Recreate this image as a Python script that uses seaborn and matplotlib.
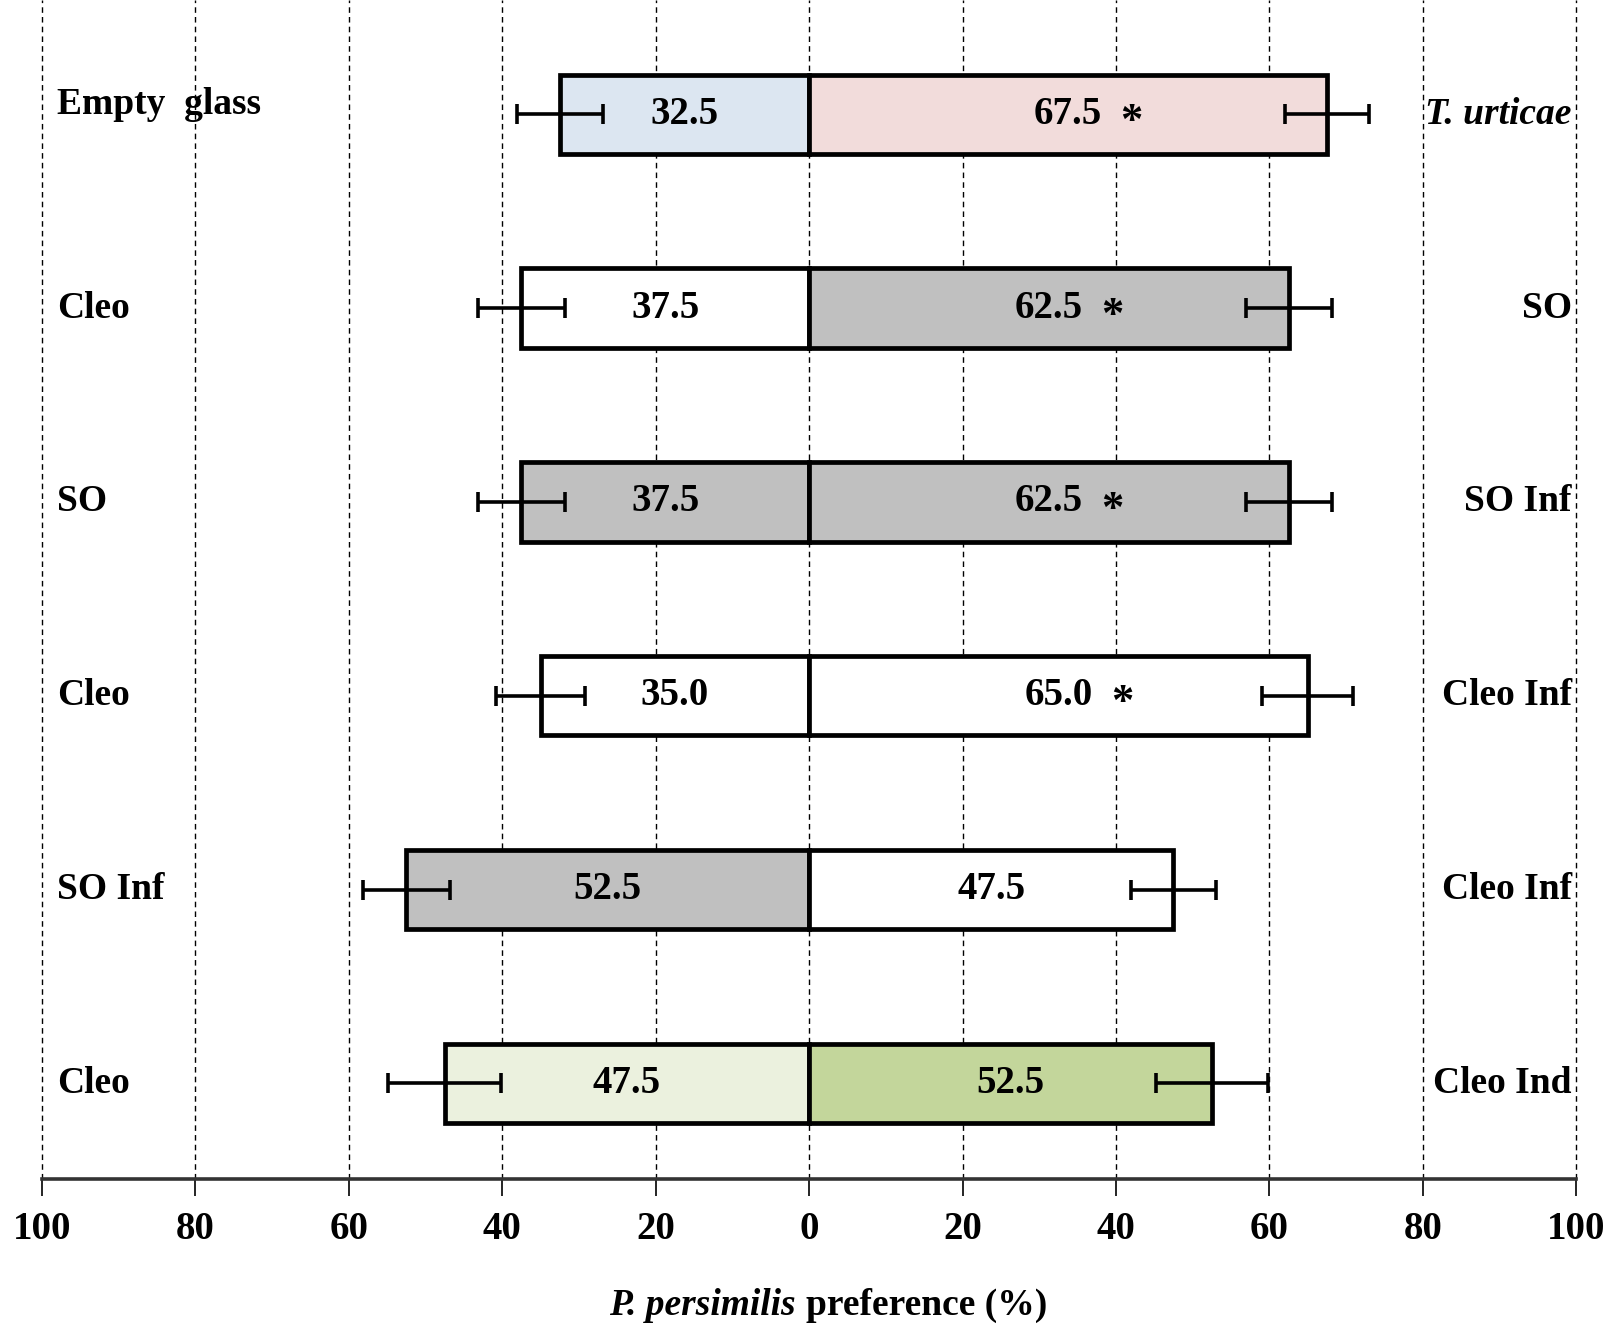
import matplotlib
matplotlib.use("Agg")
import matplotlib.pyplot as plt
import seaborn as sns
import pandas as pd

# ---- data ----
left_labels = ["Empty  glass", "Cleo", "SO", "Cleo", "SO Inf", "Cleo"]
right_labels = ["T. urticae", "SO", "SO Inf", "Cleo Inf", "Cleo Inf", "Cleo Ind"]
right_italic = [True, False, False, False, False, False]
left_values = [32.5, 37.5, 37.5, 35.0, 52.5, 47.5]
right_values = [67.5, 62.5, 62.5, 65.0, 47.5, 52.5]
left_err = [5.6, 5.7, 5.7, 5.8, 5.7, 7.4]
right_err = [5.5, 5.6, 5.6, 5.9, 5.6, 7.3]
significant = [True, True, True, True, False, False]
left_colors = ["#dce6f1", "#ffffff", "#c0c0c0", "#ffffff", "#c0c0c0", "#ebf1de"]
right_colors = ["#f2dcdb", "#c0c0c0", "#c0c0c0", "#ffffff", "#ffffff", "#c3d69b"]
tick_values = [-100, -80, -60, -40, -20, 0, 20, 40, 60, 80, 100]
tick_labels = ["100", "80", "60", "40", "20", "0", "20", "40", "60", "80", "100"]

rows = [f"r{i}" for i in range(len(left_values))]
df = pd.DataFrame({
    "row": rows,
    "left": [-v for v in left_values],
    "right": right_values,
})

sns.set_theme(style="white")
plt.rcParams["font.family"] = ["Liberation Serif", "DejaVu Serif"]
plt.rcParams["font.weight"] = "bold"
plt.rcParams["text.color"] = "black"
plt.rcParams["xtick.color"] = "black"
plt.rcParams["xtick.labelcolor"] = "black"

fig = plt.figure(figsize=(16.15, 13.27), dpi=100)
ax = fig.add_axes([0.026, 0.1115, 0.950, 0.8885])

bar_kw = dict(orient="h", width=0.41, edgecolor="black", linewidth=3.4,
              saturation=1, legend=False, order=rows, hue_order=rows, ax=ax, zorder=2)
sns.barplot(data=df, x="left", y="row", hue="row", palette=left_colors, **bar_kw)
sns.barplot(data=df, x="right", y="row", hue="row", palette=right_colors, **bar_kw)

ypos = list(range(len(rows)))
ax.errorbar(x=df["left"], y=ypos, xerr=left_err, fmt="none", ecolor="black",
            elinewidth=2.6, capsize=7, capthick=2.6, zorder=4)
ax.errorbar(x=df["right"], y=ypos, xerr=right_err, fmt="none", ecolor="black",
            elinewidth=2.6, capsize=7, capthick=2.6, zorder=4)

for xv in tick_values:
    ax.axvline(xv, color="black", lw=1.0, ls=(0, (4, 3)), zorder=0, clip_on=False)

for i in ypos:
    lv, rv = left_values[i], right_values[i]
    ax.text(-lv / 2, i, f"{lv:.1f}", ha="center", va="center",
            fontsize=28, fontweight="bold", zorder=5)
    ax.text(rv / 2, i, f"{rv:.1f}", ha="center", va="center",
            fontsize=28, fontweight="bold", zorder=5)
    if significant[i]:
        ax.text(rv / 2 + 8.3, i + 0.04, "*", ha="center", va="center",
                fontsize=32, fontweight="bold", zorder=5)
    ax.text(-98.0, i - (0.05 if i == 0 else 0), left_labels[i], ha="left", va="center",
            fontsize=27, fontweight="bold", zorder=5)
    ax.text(99.4, i, right_labels[i], ha="right", va="center", fontsize=27,
            fontweight="bold", style="italic" if right_italic[i] else "normal", zorder=5)

ax.set_xlim(-100, 100)
ax.set_ylim(5.494, -0.59)
ax.set_xticks(tick_values)
ax.set_xticklabels(tick_labels, fontsize=28, fontweight="bold")
ax.set_yticks([])
ax.set_xlabel("")
ax.set_ylabel("")
for s in ["top", "left", "right"]:
    ax.spines[s].set_visible(False)
ax.spines["bottom"].set_linewidth(2.6)
ax.spines["bottom"].set_color("#333333")
ax.tick_params(axis="x", direction="out", length=12, width=1.2, color="black", pad=11,
               bottom=True)
ax.set_facecolor("white")

fig.text(796 / 1615, 0.016, "P. persimilis", ha="right", va="center",
         fontsize=27, fontweight="bold", style="italic")
fig.text(806 / 1615, 0.016, "preference (%)", ha="left", va="center",
         fontsize=27, fontweight="bold")

fig.savefig("out.png", dpi=100, facecolor="white")
